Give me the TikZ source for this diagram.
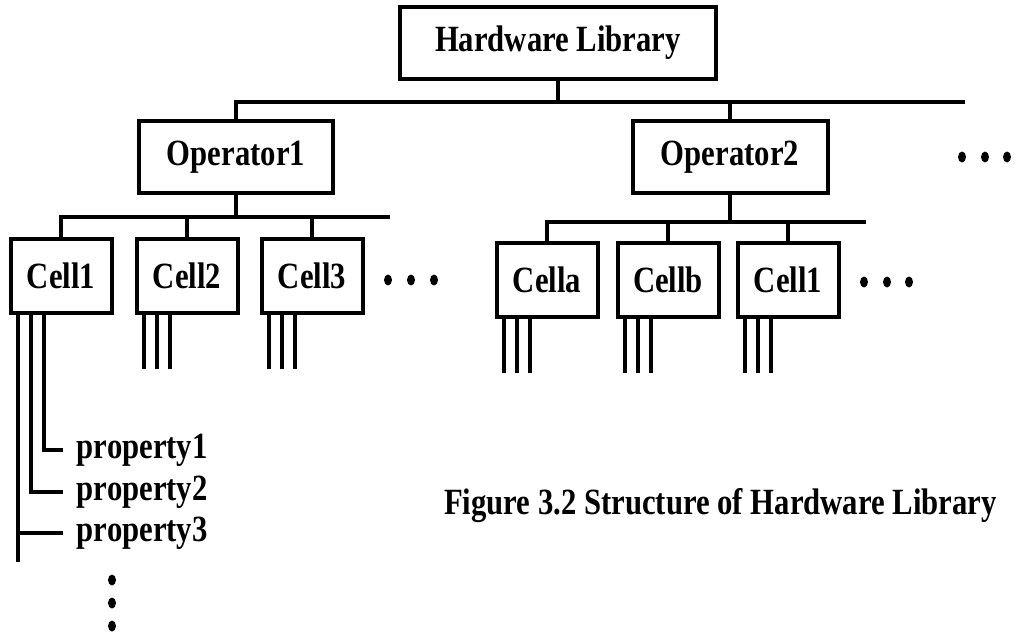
\documentclass[tikz,border=0pt]{standalone}
\usepackage{fontspec}
\setmainfont[FakeStretch=0.83]{Liberation Serif}
\usepackage{tikz}
\usetikzlibrary{shapes.geometric}

\begin{document}
\begin{tikzpicture}[x=1pt,y=-1pt,line width=3.8pt,font=\fontsize{37}{42}\selectfont\bfseries]
\tikzset{box/.style={draw,line width=4pt,inner sep=0pt,minimum height=74pt},
  cellbox/.style={box,minimum width=101pt},
  dot/.style={ellipse,fill,inner sep=0pt,minimum width=8pt,minimum height=11pt},
  prop/.style={anchor=west,inner sep=0pt}}
\useasboundingbox (0,0) rectangle (1015,634);
\node[box,minimum width=316pt,minimum height=72pt] (hw) at (558,43) {Hardware Library};
\node[box,minimum width=194pt,minimum height=72pt] (op1) at (236,157) {Operator1};
\node[box,minimum width=195pt,minimum height=72pt] (op2) at (730,157) {Operator2};
\coordinate (busT) at (965,102);
\draw (op1.north) |- (busT);
\draw (hw.south) -- (hw.south |- busT);
\draw (op2.north) -- (op2.north |- busT);
\foreach \x/\n in {962/a,985/b,1007/c} {\node[dot] (od\n) at (\x,157) {};}
% left cells
\node[cellbox] (c1) at (61,276) {Cell1};
\node[cellbox] (c2) at (187,276) {Cell2};
\node[cellbox] (c3) at (312,276) {Cell3};
\coordinate (busL) at (390,217);
\draw (c1.north) |- (busL);
\draw (op1.south) -- (op1.south |- busL);
\draw (c2.north) -- (c2.north |- busL);
\draw (c3.north) -- (c3.north |- busL);
\foreach \x/\n in {388/a,411/b,434/c} {\node[dot] (ld\n) at (\x,280) {};}
% right cells
\node[cellbox] (ca) at (547,280) {Cella};
\node[cellbox] (cb) at (668,280) {Cellb};
\node[cellbox] (cd) at (788,280) {Cell1};
\coordinate (busR) at (866,222);
\draw (ca.north) |- (busR);
\draw (op2.south) -- (op2.south |- busR);
\draw (cb.north) -- (cb.north |- busR);
\draw (cd.north) -- (cd.north |- busR);
\foreach \x/\n in {864/a,887/b,909/c} {\node[dot] (rd\n) at (\x,282) {};}
% pins
\foreach \c in {c2,c3,ca,cb,cd}
  \foreach \dx in {-43,-30,-17} {\draw ([xshift=\dx pt]\c.south) -- ++(0,54);}
% properties of Cell1
\node[prop] (pr1) at (75,450) {property1};
\node[prop] (pr2) at (75,492) {property2};
\node[prop] (pr3) at (75,533) {property3};
\coordinate (tail) at (18,562);
\draw ([xshift=-17pt]c1.south) |- ([xshift=-12pt]pr1.west);
\draw ([xshift=-30pt]c1.south) |- ([xshift=-12pt]pr2.west);
\draw ([xshift=-43pt]c1.south) -- (tail);
\draw (tail |- pr3.west) -- ([xshift=-12pt]pr3.west);
\foreach \y/\n in {580/a,603/b,626/c} {\node[dot] (vd\n) at (112,\y) {};}
\node[anchor=east] (cap) at (1002,506) {Figure 3.2 Structure of Hardware Library};
\end{tikzpicture}
\end{document}
